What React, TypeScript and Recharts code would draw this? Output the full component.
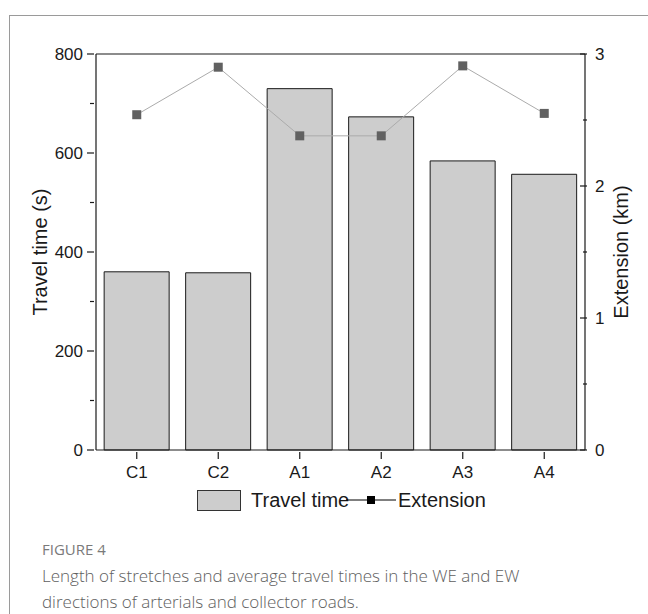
import React from 'react';
import { ComposedChart, Bar, Line, XAxis, YAxis, ReferenceLine } from 'recharts';

const categories = ['C1', 'C2', 'A1', 'A2', 'A3', 'A4'];
const travelTime = [360, 358, 730, 673, 584, 557];
const extension = [2.54, 2.9, 2.38, 2.38, 2.91, 2.55];
const leftTicks = [0, 100, 200, 300, 400, 500, 600, 700, 800];
const rightTicks = [0, 0.5, 1, 1.5, 2, 2.5, 3];
const boundaryTicks = [1, 2, 3, 4, 5];

const data = categories.map((c, i) => ({ name: c, travel: travelTime[i], ext: extension[i] }));

const FONT = '"Liberation Sans", Arial, sans-serif';
const INK = '#1a1a1a';

function LeftTick({ x, y, payload }: any) {
  const major = payload.value % 200 === 0;
  return (
    <g>
      <line x1={x - (major ? 7 : 4)} x2={x} y1={y} y2={y} stroke={INK} strokeWidth={1.2} />
      {major && (
        <text x={x - 11} y={y} dy="0.35em" textAnchor="end" fontSize={17} fill={INK} fontFamily={FONT}>
          {payload.value}
        </text>
      )}
    </g>
  );
}

function RightTick({ x, y, payload }: any) {
  const major = Number.isInteger(payload.value);
  return (
    <g>
      <line x1={x - (major ? 7 : 4)} x2={x} y1={y} y2={y} stroke={INK} strokeWidth={1.2} />
      {major && (
        <text x={x + 8} y={y} dy="0.35em" textAnchor="start" fontSize={17} fill={INK} fontFamily={FONT}>
          {payload.value}
        </text>
      )}
    </g>
  );
}

function CatTick({ x, y, payload }: any) {
  return (
    <g>
      <line x1={x} x2={x} y1={y} y2={y + 7} stroke={INK} strokeWidth={1.2} />
      <text x={x} y={y + 20} dy="0.35em" textAnchor="middle" fontSize={17} fill={INK} fontFamily={FONT}>
        {payload.value}
      </text>
    </g>
  );
}

function MinorTick({ x, y }: any) {
  return <line x1={x} x2={x} y1={y} y2={y + 4} stroke={INK} strokeWidth={1.2} />;
}

function SquareDot(props: any) {
  const { cx, cy, index } = props;
  return <rect key={`dot-${index}`} x={cx - 4.5} y={cy - 4.5} width={9} height={9} fill="#616161" />;
}

function axisTitle(text: string, cx: number) {
  return ({ viewBox }: any) => {
    const cy = viewBox.y + viewBox.height / 2;
    return (
      <text
        x={cx}
        y={cy}
        transform={`rotate(-90 ${cx} ${cy})`}
        textAnchor="middle"
        dominantBaseline="central"
        fontSize={20}
        fill={INK}
        fontFamily={FONT}
      >
        {text}
      </text>
    );
  };
}

export default function App() {
  return (
    <div style={{ position: 'absolute', left: 0, top: 0, width: 648, height: 614, background: '#fff', overflow: 'hidden' }}>
      <div style={{ position: 'absolute', left: 9, top: 15, width: 700, height: 700, border: '1.5px solid #9a9a9a' }} />
      <div style={{ position: 'absolute', left: 0, top: 0 }}>
        <ComposedChart width={648} height={490} data={data} margin={{ top: 54, right: 23, bottom: 0, left: 36 }} barCategoryGap="10%">
          <XAxis xAxisId="minor" type="number" domain={[0, 6]} ticks={boundaryTicks} height={0} axisLine={false} tickLine={false} tick={<MinorTick />} tickSize={0} />
          <XAxis xAxisId="cat" dataKey="name" height={40} axisLine={{ stroke: INK, strokeWidth: 1.2 }} tickLine={false} tickSize={0} tick={<CatTick />} />
          <YAxis
            yAxisId="left"
            domain={[0, 800]}
            ticks={leftTicks}
            width={60}
            axisLine={{ stroke: INK, strokeWidth: 1.2 }}
            tickLine={false}
            tickSize={0}
            tick={<LeftTick />}
            interval={0}
            label={{ content: axisTitle('Travel time (s)', 40) }}
          />
          <YAxis
            yAxisId="right"
            orientation="right"
            domain={[0, 3]}
            ticks={rightTicks}
            width={40}
            axisLine={{ stroke: INK, strokeWidth: 1.2 }}
            tickLine={false}
            tickSize={0}
            tick={<RightTick />}
            interval={0}
            label={{ content: axisTitle('Extension (km)', 621) }}
          />
          <ReferenceLine yAxisId="left" xAxisId="cat" y={800} stroke={INK} strokeWidth={1.2} />
          <Bar xAxisId="cat" yAxisId="left" dataKey="travel" fill="#cdcdcd" stroke={INK} strokeWidth={1} isAnimationActive={false} />
          <Line
            xAxisId="cat"
            yAxisId="right"
            dataKey="ext"
            stroke="#ababab"
            strokeWidth={1}
            dot={SquareDot}
            activeDot={false}
            isAnimationActive={false}
          />
        </ComposedChart>
      </div>
      <div style={{ position: 'absolute', left: 197, top: 490, width: 44, height: 21, boxSizing: 'border-box', background: '#cdcdcd', border: '1px solid #333' }} />
      <div style={{ position: 'absolute', left: 251, top: 487, fontFamily: FONT, fontSize: 20, color: INK, lineHeight: '26px', whiteSpace: 'nowrap' }}>
        Travel time
      </div>
      <svg style={{ position: 'absolute', left: 346, top: 490 }} width={50} height={20}>
        <line x1={0} x2={50} y1={10} y2={10} stroke="#000" strokeWidth={1} />
        <rect x={21} y={6} width={8} height={8} fill="#000" />
      </svg>
      <div style={{ position: 'absolute', left: 398, top: 487, fontFamily: FONT, fontSize: 20, color: INK, lineHeight: '26px', whiteSpace: 'nowrap' }}>
        Extension
      </div>
      <div style={{ position: 'absolute', left: 42, top: 539, fontFamily: '"Open Sans", sans-serif', fontSize: 15, color: '#7a7a7a', lineHeight: '20px' }}>
        FIGURE 4
      </div>
      <div style={{ position: 'absolute', left: 42, top: 563, fontFamily: '"Open Sans", sans-serif', fontWeight: 300, fontSize: 17, color: '#5e5e5e', lineHeight: '26px', whiteSpace: 'nowrap' }}>
        Length of stretches and average travel times in the WE and EW
        <br />
        directions of arterials and collector roads.
      </div>
    </div>
  );
}
